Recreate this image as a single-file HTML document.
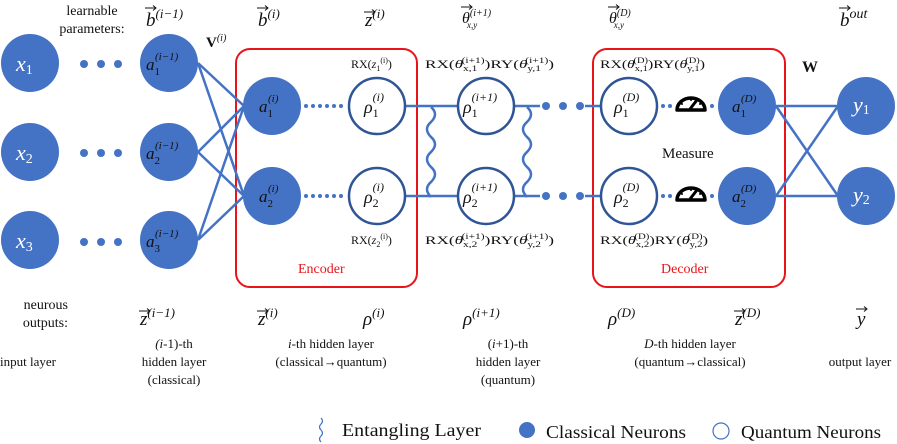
<!DOCTYPE html>
<html><head><meta charset="utf-8"><style>
body{margin:0;background:#fff}
svg{display:block}
text{font-family:"Liberation Serif",serif;fill:#111}
.w{fill:#fff;font-style:italic;font-size:22px}
.it{font-style:italic}
</style></head><body>
<svg width="897" height="444" viewBox="0 0 897 444" xmlns="http://www.w3.org/2000/svg">
<defs>
<path id="wave" d="M0,0 q8,7 0,15 q-8,7 0,15 q8,7 0,15 q-8,7 0,15 q8,7 0,15 q-8,7 0,15" fill="none" stroke="#4472C4" stroke-width="2.5"/>
<path id="arr" d="M0,0 h11 M8,-2.5 l3,2.5 l-3,2.5" fill="none" stroke="#111" stroke-width="1"/>
</defs>
<rect x="236" y="49" width="181" height="238" rx="14" fill="none" stroke="#e8141a" stroke-width="2"/>
<rect x="593" y="49" width="192" height="238" rx="14" fill="none" stroke="#e8141a" stroke-width="2"/>
<g stroke="#4472C4" stroke-width="2.5">
<line x1="198" y1="63" x2="244" y2="106"/><line x1="198" y1="63" x2="244" y2="196"/>
<line x1="198" y1="152" x2="244" y2="106"/><line x1="198" y1="152" x2="244" y2="196"/>
<line x1="198" y1="240" x2="244" y2="106"/><line x1="198" y1="240" x2="244" y2="196"/>
<line x1="406" y1="106" x2="457" y2="106"/><line x1="406" y1="196" x2="457" y2="196"/>
<line x1="515" y1="106" x2="540" y2="106"/><line x1="515" y1="196" x2="540" y2="196"/>
<line x1="585" y1="106" x2="601" y2="106"/><line x1="585" y1="196" x2="601" y2="196"/>
<line x1="776" y1="106" x2="838" y2="106"/><line x1="776" y1="196" x2="838" y2="196"/>
<line x1="776" y1="106" x2="838" y2="196"/><line x1="776" y1="196" x2="838" y2="106"/>
</g>
<use href="#wave" x="431" y="107"/>
<use href="#wave" x="527" y="107"/>
<g fill="#4472C4">
<circle cx="84" cy="64" r="4"/><circle cx="101" cy="64" r="4"/><circle cx="118" cy="64" r="4"/>
<circle cx="84" cy="153" r="4"/><circle cx="101" cy="153" r="4"/><circle cx="118" cy="153" r="4"/>
<circle cx="84" cy="242" r="4"/><circle cx="101" cy="242" r="4"/><circle cx="118" cy="242" r="4"/>
<circle cx="546" cy="106" r="4"/><circle cx="563" cy="106" r="4"/><circle cx="580" cy="106" r="4"/>
<circle cx="546" cy="196" r="4"/><circle cx="563" cy="196" r="4"/><circle cx="580" cy="196" r="4"/>
<g id="sd"><circle cx="306" cy="106" r="2"/><circle cx="313" cy="106" r="2"/><circle cx="320" cy="106" r="2"/><circle cx="327" cy="106" r="2"/><circle cx="334" cy="106" r="2"/><circle cx="341" cy="106" r="2"/></g>
<use href="#sd" y="90"/>
<circle cx="663" cy="106" r="2"/><circle cx="670" cy="106" r="2"/><circle cx="712" cy="106" r="2"/>
<circle cx="663" cy="196" r="2"/><circle cx="670" cy="196" r="2"/><circle cx="712" cy="196" r="2"/>
<circle cx="30" cy="63" r="29"/><circle cx="30" cy="152" r="29"/><circle cx="30" cy="240" r="29"/>
<circle cx="169" cy="63" r="29"/><circle cx="169" cy="152" r="29"/><circle cx="169" cy="240" r="29"/>
<circle cx="272" cy="106" r="29"/><circle cx="272" cy="196" r="29"/>
<circle cx="747" cy="106" r="29"/><circle cx="747" cy="196" r="29"/>
<circle cx="866" cy="106" r="29"/><circle cx="866" cy="196" r="29"/>
</g>
<g fill="#fff" stroke="#2f5597" stroke-width="2.5">
<circle cx="377" cy="106" r="28"/><circle cx="377" cy="196" r="28"/>
<circle cx="486" cy="106" r="28"/><circle cx="486" cy="196" r="28"/>
<circle cx="629" cy="106" r="28"/><circle cx="629" cy="196" r="28"/>
</g>
<g id="m"><path d="M677,110 a14,12 0 0 1 28,0 z" fill="#fff" stroke="#000" stroke-width="3.5" stroke-linejoin="round"/><line x1="690" y1="109" x2="697" y2="100" stroke="#000" stroke-width="3"/><circle cx="682" cy="104" r="1" fill="#000"/><circle cx="691" cy="100" r="1" fill="#000"/><circle cx="700" cy="104" r="1" fill="#000"/></g>
<use href="#m" y="90"/>
<text x="16" y="71" class="w">x<tspan font-size="14" dy="3" font-style="normal">1</tspan></text>
<text x="16" y="160" class="w">x<tspan font-size="14" dy="3" font-style="normal">2</tspan></text>
<text x="16" y="248" class="w">x<tspan font-size="14" dy="3" font-style="normal">3</tspan></text>
<g class="w" style="font-size:17px">
<text x="146" y="70">a<tspan font-size="11" dy="5" font-style="normal">1</tspan><tspan font-size="11" dy="-15" dx="-5">(i−1)</tspan></text>
<text x="146" y="159">a<tspan font-size="11" dy="5" font-style="normal">2</tspan><tspan font-size="11" dy="-15" dx="-5">(i−1)</tspan></text>
<text x="146" y="247">a<tspan font-size="11" dy="5" font-style="normal">3</tspan><tspan font-size="11" dy="-15" dx="-5">(i−1)</tspan></text>
<text x="259" y="112">a<tspan font-size="11" dy="5" font-style="normal">1</tspan><tspan font-size="11" dy="-15" dx="-5">(i)</tspan></text>
<text x="259" y="202">a<tspan font-size="11" dy="5" font-style="normal">2</tspan><tspan font-size="11" dy="-15" dx="-5">(i)</tspan></text>
<text x="732" y="112">a<tspan font-size="11" dy="5" font-style="normal">1</tspan><tspan font-size="11" dy="-15" dx="-5">(D)</tspan></text>
<text x="732" y="202">a<tspan font-size="11" dy="5" font-style="normal">2</tspan><tspan font-size="11" dy="-15" dx="-5">(D)</tspan></text>
</g>
<text x="853" y="112" class="w">y<tspan font-size="14" dy="2" font-style="normal">1</tspan></text>
<text x="853" y="202" class="w">y<tspan font-size="14" dy="2" font-style="normal">2</tspan></text>
<g class="it" style="font-size:18px">
<text x="364" y="113">ρ<tspan font-size="12" dy="4" font-style="normal">1</tspan><tspan font-size="12" dy="-16" dx="-6">(i)</tspan></text>
<text x="364" y="203">ρ<tspan font-size="12" dy="4" font-style="normal">2</tspan><tspan font-size="12" dy="-16" dx="-6">(i)</tspan></text>
<text x="463" y="113">ρ<tspan font-size="12" dy="4" font-style="normal">1</tspan><tspan font-size="12" dy="-16" dx="-6">(i+1)</tspan></text>
<text x="463" y="203">ρ<tspan font-size="12" dy="4" font-style="normal">2</tspan><tspan font-size="12" dy="-16" dx="-6">(i+1)</tspan></text>
<text x="614" y="113">ρ<tspan font-size="12" dy="4" font-style="normal">1</tspan><tspan font-size="12" dy="-16" dx="-6">(D)</tspan></text>
<text x="614" y="203">ρ<tspan font-size="12" dy="4" font-style="normal">2</tspan><tspan font-size="12" dy="-16" dx="-6">(D)</tspan></text>
</g>
<g font-size="12">
<text x="351" y="68">RX(<tspan class="it">z</tspan><tspan font-size="8" dy="3">1</tspan><tspan font-size="8" dy="-8">(i)</tspan><tspan dy="5">)</tspan></text>
<text x="351" y="244">RX(<tspan class="it">z</tspan><tspan font-size="8" dy="3">2</tspan><tspan font-size="8" dy="-8">(i)</tspan><tspan dy="5">)</tspan></text>
<text x="425" y="68" textLength="129" lengthAdjust="spacingAndGlyphs">RX(<tspan class="it">θ</tspan><tspan font-size="8" dy="3">x,1</tspan><tspan font-size="8" dy="-8" dx="-11">(i+1)</tspan><tspan dy="5">)RY(</tspan><tspan class="it">θ</tspan><tspan font-size="8" dy="3">y,1</tspan><tspan font-size="8" dy="-8" dx="-11">(i+1)</tspan><tspan dy="5">)</tspan></text>
<text x="425" y="244" textLength="129" lengthAdjust="spacingAndGlyphs">RX(<tspan class="it">θ</tspan><tspan font-size="8" dy="3">x,2</tspan><tspan font-size="8" dy="-8" dx="-11">(i+1)</tspan><tspan dy="5">)RY(</tspan><tspan class="it">θ</tspan><tspan font-size="8" dy="3">y,2</tspan><tspan font-size="8" dy="-8" dx="-11">(i+1)</tspan><tspan dy="5">)</tspan></text>
<text x="600" y="68" textLength="105" lengthAdjust="spacingAndGlyphs">RX(<tspan class="it">θ</tspan><tspan font-size="8" dy="3">x,1</tspan><tspan font-size="8" dy="-8" dx="-11">(D)</tspan><tspan dy="5">)RY(</tspan><tspan class="it">θ</tspan><tspan font-size="8" dy="3">y,1</tspan><tspan font-size="8" dy="-8" dx="-11">(D)</tspan><tspan dy="5">)</tspan></text>
<text x="600" y="244" textLength="108" lengthAdjust="spacingAndGlyphs">RX(<tspan class="it">θ</tspan><tspan font-size="8" dy="3">x,2</tspan><tspan font-size="8" dy="-8" dx="-11">(D)</tspan><tspan dy="5">)RY(</tspan><tspan class="it">θ</tspan><tspan font-size="8" dy="3">y,2</tspan><tspan font-size="8" dy="-8" dx="-11">(D)</tspan><tspan dy="5">)</tspan></text>
</g>
<text x="662" y="158" font-size="15">Measure</text>
<text x="298" y="273" font-size="14" style="fill:#e8141a">Encoder</text>
<text x="661" y="273" font-size="14" style="fill:#e8141a">Decoder</text>
<text x="206" y="47" font-size="15" font-weight="bold">V<tspan font-size="10" dy="-6" font-weight="normal" class="it">(i)</tspan></text>
<text x="802" y="72" font-size="16" font-weight="bold">W</text>
<text x="92" y="15" font-size="14" text-anchor="middle">learnable</text>
<text x="92" y="33" font-size="14" text-anchor="middle">parameters:</text>
<g class="it" font-size="19">
<text x="146" y="26">b<tspan font-size="13" dy="-8">(i−1)</tspan></text><use href="#arr" x="145" y="8"/>
<text x="258" y="26">b<tspan font-size="13" dy="-8">(i)</tspan></text><use href="#arr" x="257" y="8"/>
<text x="365" y="26">z<tspan font-size="13" dy="-8">(i)</tspan></text><use href="#arr" x="364" y="12"/>
<text x="462" y="23" font-size="16">θ<tspan font-size="10" dy="-7">(i+1)</tspan><tspan font-size="9" dy="12" dx="-24">x,y</tspan></text><use href="#arr" x="461" y="7"/>
<text x="609" y="23" font-size="16">θ<tspan font-size="10" dy="-7">(D)</tspan><tspan font-size="9" dy="12" dx="-17">x,y</tspan></text><use href="#arr" x="608" y="7"/>
<text x="840" y="26">b<tspan font-size="14" dy="-8">out</tspan></text><use href="#arr" x="839" y="8"/>
</g>
<text x="68" y="309" font-size="14" text-anchor="end">neurous</text>
<text x="68" y="327" font-size="14" text-anchor="end">outputs:</text>
<g class="it" font-size="19">
<text x="140" y="325">z<tspan font-size="13" dy="-8">(i−1)</tspan></text><use href="#arr" x="139" y="311"/>
<text x="258" y="325">z<tspan font-size="13" dy="-8">(i)</tspan></text><use href="#arr" x="257" y="311"/>
<text x="363" y="325">ρ<tspan font-size="13" dy="-8">(i)</tspan></text>
<text x="463" y="325">ρ<tspan font-size="13" dy="-8">(i+1)</tspan></text>
<text x="608" y="325">ρ<tspan font-size="13" dy="-8">(D)</tspan></text>
<text x="735" y="325">z<tspan font-size="13" dy="-8">(D)</tspan></text><use href="#arr" x="734" y="311"/>
<text x="857" y="325">y</text><use href="#arr" x="856" y="309"/>
</g>
<g font-size="13" text-anchor="middle">
<text x="28" y="366">input layer</text>
<text x="174" y="348"><tspan class="it">(i</tspan>-1)-th</text>
<text x="174" y="366">hidden layer</text>
<text x="174" y="384">(classical)</text>
<text x="331" y="348"><tspan class="it">i</tspan>-th hidden layer</text>
<text x="331" y="366">(classical→quantum)</text>
<text x="508" y="348">(<tspan class="it">i</tspan>+1)-th</text>
<text x="508" y="366">hidden layer</text>
<text x="508" y="384">(quantum)</text>
<text x="690" y="348"><tspan class="it">D</tspan>-th hidden layer</text>
<text x="690" y="366">(quantum→classical)</text>
<text x="860" y="366">output layer</text>
</g>
<path d="M321,418 q3,3 0,6 q-3,3 0,6 q3,3 0,6 q-3,3 0,6" fill="none" stroke="#4472C4" stroke-width="1.2"/>
<text x="342" y="436" font-size="18" textLength="139" lengthAdjust="spacingAndGlyphs">Entangling Layer</text>
<circle cx="527" cy="430" r="8" fill="#4472C4"/>
<text x="546" y="438" font-size="18" textLength="140" lengthAdjust="spacingAndGlyphs">Classical Neurons</text>
<circle cx="721" cy="431" r="8" fill="none" stroke="#4472C4" stroke-width="1.2"/>
<text x="741" y="438" font-size="18" textLength="140" lengthAdjust="spacingAndGlyphs">Quantum Neurons</text>
</svg>
</body></html>
